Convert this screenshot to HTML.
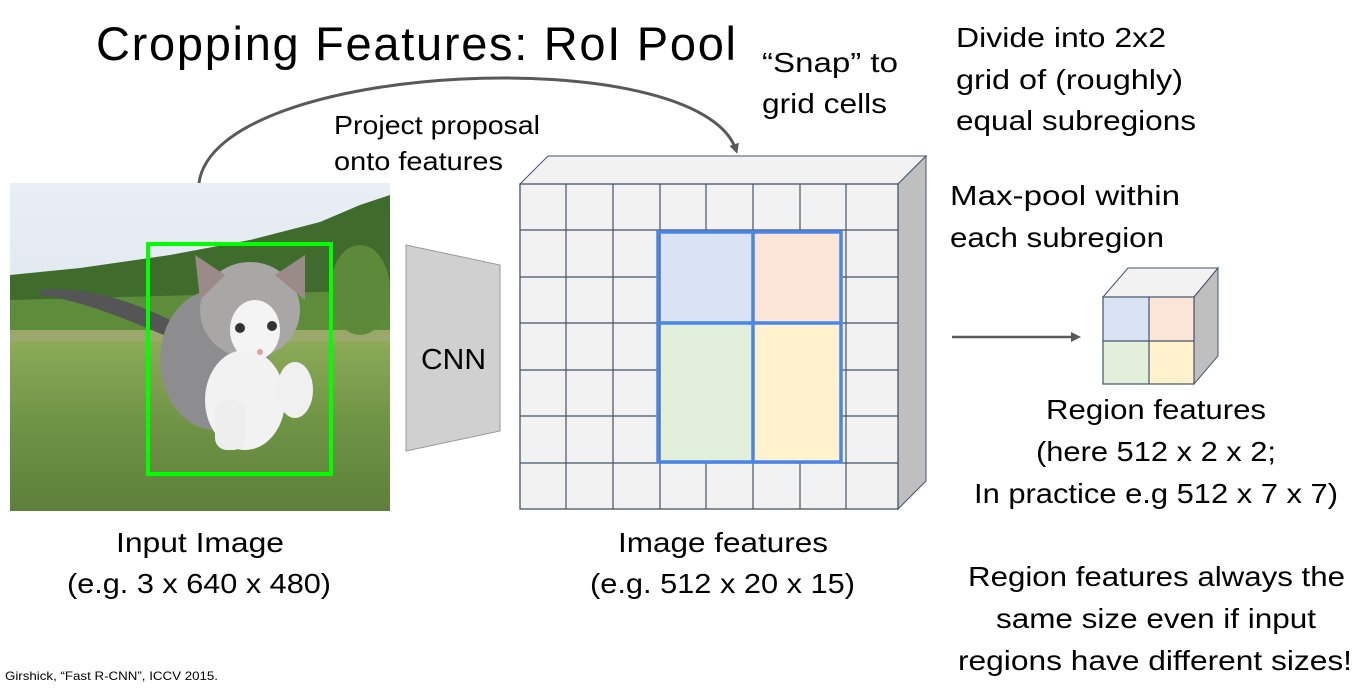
<!DOCTYPE html>
<html><head><meta charset="utf-8"><style>
html,body{margin:0;padding:0;background:#fff;}
svg{display:block;font-family:"Liberation Sans",sans-serif;}
</style></head><body>
<svg width="1356" height="688" viewBox="0 0 1356 688" xmlns="http://www.w3.org/2000/svg">
<defs>
<linearGradient id="sky" x1="0" y1="0" x2="0" y2="1"><stop offset="0" stop-color="#e9eef4"/><stop offset="1" stop-color="#d8e0ea"/></linearGradient>
<linearGradient id="grass" x1="0" y1="0" x2="0" y2="1"><stop offset="0" stop-color="#8fae5a"/><stop offset="0.5" stop-color="#6f9445"/><stop offset="1" stop-color="#5d7f3a"/></linearGradient>
<clipPath id="ic"><rect x="10" y="183" width="380" height="328"/></clipPath>
<marker id="ah" markerWidth="10" markerHeight="10" refX="6" refY="5" orient="auto" markerUnits="userSpaceOnUse"><path d="M0,0 L10,5 L0,10 z" fill="#595959"/></marker>
</defs>
<text x="96" y="60" font-size="47" fill="#000" textLength="640">Cropping Features: RoI Pool</text>

<path d="M199,183 C215,60 700,40 736,150" fill="none" stroke="#595959" stroke-width="3" marker-end="url(#ah)"/>
<g font-size="28" fill="#000" lengthAdjust="spacingAndGlyphs">
<text x="334" y="134" font-size="26" textLength="206" lengthAdjust="spacingAndGlyphs">Project proposal</text>
<text x="334" y="170" font-size="26" textLength="169" lengthAdjust="spacingAndGlyphs">onto features</text>
<text x="762" y="72" textLength="136" lengthAdjust="spacingAndGlyphs">“Snap” to</text>
<text x="762" y="113" textLength="125" lengthAdjust="spacingAndGlyphs">grid cells</text>
<text x="956" y="47" textLength="210" lengthAdjust="spacingAndGlyphs">Divide into 2x2</text>
<text x="956" y="89" textLength="227" lengthAdjust="spacingAndGlyphs">grid of (roughly)</text>
<text x="956" y="130" textLength="240" lengthAdjust="spacingAndGlyphs">equal subregions</text>
<text x="950" y="205" textLength="230" lengthAdjust="spacingAndGlyphs">Max-pool within</text>
<text x="950" y="247" textLength="214" lengthAdjust="spacingAndGlyphs">each subregion</text>
<text x="1046" y="419" textLength="220" lengthAdjust="spacingAndGlyphs">Region features</text>
<text x="1036" y="461" textLength="240" lengthAdjust="spacingAndGlyphs">(here 512 x 2 x 2;</text>
<text x="974" y="503" textLength="364" lengthAdjust="spacingAndGlyphs">In practice e.g 512 x 7 x 7)</text>
<text x="968" y="586" textLength="377" lengthAdjust="spacingAndGlyphs">Region features always the</text>
<text x="996" y="628" textLength="320" lengthAdjust="spacingAndGlyphs">same size even if input</text>
<text x="958" y="670" textLength="394" lengthAdjust="spacingAndGlyphs">regions have different sizes!</text>
<text x="116" y="552" textLength="168" lengthAdjust="spacingAndGlyphs">Input Image</text>
<text x="67" y="593" textLength="264" lengthAdjust="spacingAndGlyphs">(e.g. 3 x 640 x 480)</text>
<text x="618" y="552" textLength="210" lengthAdjust="spacingAndGlyphs">Image features</text>
<text x="590" y="593" textLength="265" lengthAdjust="spacingAndGlyphs">(e.g. 512 x 20 x 15)</text>
</g>

<g clip-path="url(#ic)">
<rect x="10" y="183" width="380" height="328" fill="url(#sky)"/>
<path d="M10,275 L80,268 L170,255 L250,240 L320,222 L360,205 L390,195 L390,320 L10,330 z" fill="#3f6b2c"/>
<path d="M10,300 L390,290 L390,345 L10,345 z" fill="#5d8c3a"/>
<rect x="10" y="330" width="380" height="185" fill="url(#grass)"/>
<rect x="10" y="330" width="380" height="12" fill="#9aa86a"/>
<ellipse cx="360" cy="290" rx="30" ry="45" fill="#5c8a3a"/>
<path d="M40,290 C80,285 130,300 170,320 L175,340 C130,320 80,300 40,295 z" fill="#555"/>
<ellipse cx="215" cy="360" rx="55" ry="70" fill="#8d8d90"/>
<ellipse cx="250" cy="310" rx="50" ry="48" fill="#a9a6a6"/>
<path d="M200,300 L195,255 L225,275 z" fill="#9a8a88"/>
<path d="M275,275 L305,255 L305,300 z" fill="#9a8a88"/>
<ellipse cx="255" cy="330" rx="25" ry="30" fill="#f4f4f4"/>
<ellipse cx="245" cy="400" rx="40" ry="50" fill="#f2f2f2"/>
<ellipse cx="295" cy="390" rx="18" ry="28" fill="#f0f0f0"/>
<rect x="215" y="400" width="30" height="50" rx="12" fill="#eeeeee"/>
<circle cx="240" cy="328" r="5" fill="#333"/><circle cx="272" cy="326" r="5" fill="#333"/>
<circle cx="260" cy="352" r="3" fill="#e0a0a0"/>
</g>
<rect x="148" y="244" width="183" height="230" fill="none" stroke="#00ff00" stroke-width="4"/>

<polygon points="406,245 500,265 500,431 406,451" fill="#d0d0d0" stroke="#9a9a9a" stroke-width="1"/>
<text x="421" y="369" font-size="29" fill="#000" textLength="65" lengthAdjust="spacingAndGlyphs">CNN</text>

<polygon points="520,184 548,156 926,156 898,184" fill="#f2f2f2" stroke="#44546a" stroke-width="1"/>
<polygon points="898,184 926,156 926,481 898,509" fill="#bfbfbf" stroke="#44546a" stroke-width="1"/>
<rect x="520" y="184" width="378" height="325" fill="#f2f2f2" stroke="#44546a" stroke-width="1.3"/>
<rect x="658" y="232" width="95" height="91" fill="#dae3f3"/>
<rect x="753" y="232" width="88" height="91" fill="#fbe5d6"/>
<rect x="658" y="323" width="95" height="139" fill="#e2efda"/>
<rect x="753" y="323" width="88" height="139" fill="#fff2cc"/>
<g stroke="#44546a" stroke-width="1.2">
<line x1="566" y1="184" x2="566" y2="509"/><line x1="613" y1="184" x2="613" y2="509"/>
<line x1="660" y1="184" x2="660" y2="509"/><line x1="706" y1="184" x2="706" y2="232"/><line x1="706" y1="462" x2="706" y2="509"/>
<line x1="753" y1="184" x2="753" y2="509"/><line x1="800" y1="184" x2="800" y2="232"/><line x1="800" y1="462" x2="800" y2="509"/>
<line x1="846" y1="184" x2="846" y2="509"/>
<line x1="520" y1="230" x2="898" y2="230"/><line x1="520" y1="277" x2="658" y2="277"/><line x1="841" y1="277" x2="898" y2="277"/>
<line x1="520" y1="323" x2="898" y2="323"/><line x1="520" y1="370" x2="658" y2="370"/><line x1="841" y1="370" x2="898" y2="370"/>
<line x1="520" y1="416" x2="658" y2="416"/><line x1="841" y1="416" x2="898" y2="416"/>
<line x1="520" y1="463" x2="898" y2="463"/>
</g>
<g stroke="#4a86e8" stroke-width="3.5" fill="none">
<rect x="658" y="232" width="183" height="230"/>
<line x1="753" y1="232" x2="753" y2="462"/><line x1="658" y1="323" x2="841" y2="323"/>
</g>

<line x1="952" y1="337" x2="1077" y2="337" stroke="#595959" stroke-width="2.5" marker-end="url(#ah)"/>

<polygon points="1103,297 1128,268 1218,268 1194,297" fill="#f2f2f2" stroke="#44546a" stroke-width="1"/>
<polygon points="1194,297 1218,268 1218,356 1194,384" fill="#bfbfbf" stroke="#44546a" stroke-width="1"/>
<rect x="1103" y="297" width="46" height="44" fill="#dae3f3"/>
<rect x="1149" y="297" width="45" height="44" fill="#fbe5d6"/>
<rect x="1103" y="341" width="46" height="43" fill="#e2efda"/>
<rect x="1149" y="341" width="45" height="43" fill="#fff2cc"/>
<g stroke="#44546a" stroke-width="1.2" fill="none"><rect x="1103" y="297" width="91" height="87"/><line x1="1149" y1="297" x2="1149" y2="384"/><line x1="1103" y1="341" x2="1194" y2="341"/></g>

<text x="5" y="680" font-size="12" fill="#000" textLength="213" lengthAdjust="spacingAndGlyphs">Girshick, “Fast R-CNN”, ICCV 2015.</text>
</svg>
</body></html>
